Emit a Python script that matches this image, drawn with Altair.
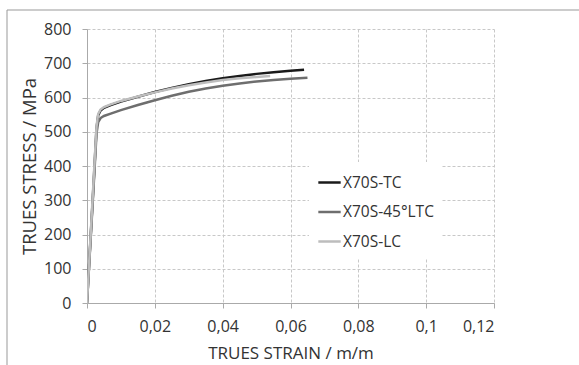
import altair as alt
import pandas as pd

# X70S-TC
tc_strain = [0.0, 0.001, 0.002, 0.0028, 0.0033, 0.004, 0.005, 0.007, 0.01, 0.015, 0.02, 0.025, 0.03, 0.035, 0.04, 0.045, 0.05, 0.055, 0.06, 0.064]
tc_stress = [0, 180, 360, 510, 548, 562, 570, 578, 588, 602, 616, 628, 639, 648, 656, 663, 669, 674, 678, 681]
# X70S-45°LTC
ltc_strain = [0.0, 0.001, 0.002, 0.0028, 0.0033, 0.004, 0.005, 0.007, 0.01, 0.015, 0.02, 0.025, 0.03, 0.035, 0.04, 0.045, 0.05, 0.055, 0.06, 0.065]
ltc_stress = [0, 175, 350, 495, 528, 540, 546, 553, 563, 578, 592, 605, 617, 626, 634, 641, 647, 651, 655, 658]
# X70S-LC
lc_strain = [0.0, 0.001, 0.002, 0.0028, 0.0033, 0.004, 0.005, 0.007, 0.01, 0.015, 0.02, 0.025, 0.03, 0.035, 0.04, 0.045, 0.05, 0.054]
lc_stress = [0, 185, 370, 515, 552, 565, 572, 580, 590, 603, 615, 626, 636, 644, 651, 656, 660, 663]

series_names = ["X70S-TC", "X70S-45°LTC", "X70S-LC"]
series_colors = ["#1a1a1a", "#6e6e6e", "#bdbdbd"]

rows = []
for name, xs, ys in [(series_names[0], tc_strain, tc_stress),
                     (series_names[1], ltc_strain, ltc_stress),
                     (series_names[2], lc_strain, lc_stress)]:
    for i, (a, b) in enumerate(zip(xs, ys)):
        rows.append({"series": name, "strain": a, "stress": b, "order": i})
df = pd.DataFrame(rows)

FONT = "Open Sans"

lines = alt.Chart(df).mark_line(strokeWidth=2.5, clip=True).encode(
    x=alt.X("strain:Q", scale=alt.Scale(domain=[0, 0.12], nice=False),
            axis=alt.Axis(values=[0, 0.02, 0.04, 0.06, 0.08, 0.1, 0.12],
                          labelExpr="replace(format(datum.value, '~g'), '.', ',')",
                          title="TRUES STRAIN / m/m", titlePadding=11, titleFontSize=17,
                          labelPadding=10, tickSize=5, domainColor="#aaaaaa",
                          tickColor="#aaaaaa", gridDash=[3, 2], gridColor="#c8c8c8")),
    y=alt.Y("stress:Q", scale=alt.Scale(domain=[0, 800], nice=False),
            axis=alt.Axis(values=[0, 100, 200, 300, 400, 500, 600, 700, 800],
                          title="TRUES STRESS / MPa", titlePadding=4, titleFontSize=18.5,
                          labelPadding=11, tickSize=5, domainColor="#aaaaaa",
                          tickColor="#aaaaaa", gridDash=[3, 2], gridColor="#c8c8c8")),
    color=alt.Color("series:N", scale=alt.Scale(domain=series_names, range=series_colors),
                    legend=alt.Legend(title=None, orient="none", legendX=222, legendY=133,
                                      symbolType="stroke", symbolStrokeWidth=2.5,
                                      symbolSize=500, labelFontSize=15.5, labelFont=FONT,
                                      labelColor="#333333", rowPadding=8.5,
                                      fillColor="white", padding=8, labelOffset=1)),
    order="order:Q",
)

frame = alt.Chart(pd.DataFrame({"k": [0]})).mark_rect(
    fill=None, stroke="#999999", strokeWidth=1, clip=False
).encode(x=alt.value(-80), x2=alt.value(520), y=alt.value(-19), y2=alt.value(400))

chart = alt.layer(frame, lines).properties(
    width=407, height=274,
    autosize=alt.AutoSizeParams(type="none"),
    padding={"left": 87, "top": 29, "right": 85, "bottom": 62},
    background="white",
).configure_axis(
    labelFont=FONT, titleFont=FONT, labelFontSize=16,
    labelColor="#333333", titleColor="#333333", titleFontWeight="normal"
).configure_view(stroke=None)

chart.save("out.html", embed_options={"renderer": "svg", "actions": False})
